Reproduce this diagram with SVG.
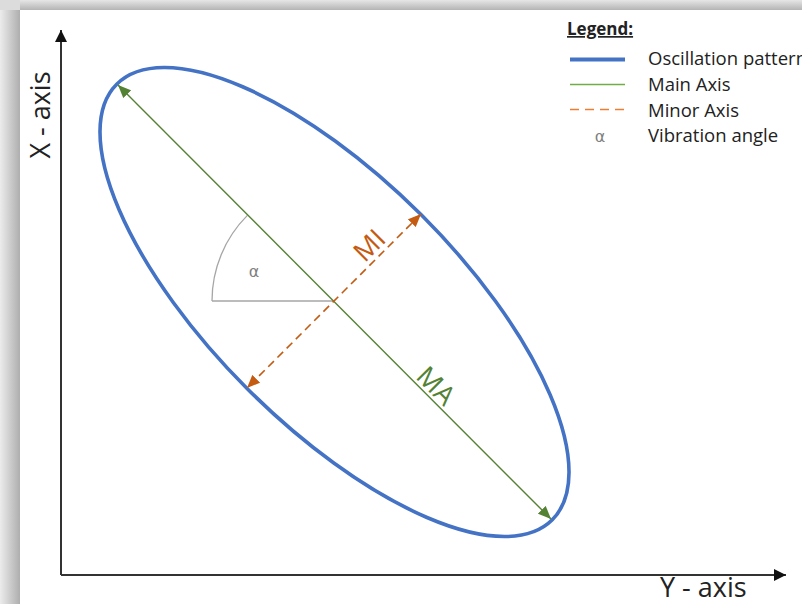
<svg xmlns="http://www.w3.org/2000/svg" width="802" height="604" viewBox="0 0 802 604">
<defs>
<linearGradient id="shL" x1="0" y1="0" x2="1" y2="0">
<stop offset="0" stop-color="#ececec"/><stop offset="1" stop-color="#aeaeae"/>
</linearGradient>
<linearGradient id="shT" x1="0" y1="0" x2="0" y2="1">
<stop offset="0" stop-color="#e6e6e6"/><stop offset="1" stop-color="#b4b4b4"/>
</linearGradient>
<marker id="arK" markerUnits="userSpaceOnUse" markerWidth="14" markerHeight="14" refX="12" refY="6" orient="auto-start-reverse" viewBox="0 0 14 12">
<path d="M0,0 L12,6 L0,12 Z" fill="#111"/>
</marker>
<marker id="arG" markerUnits="userSpaceOnUse" markerWidth="14" markerHeight="12" refX="13" refY="5.5" orient="auto-start-reverse" viewBox="0 0 14 11">
<path d="M0,0 L13,5.5 L0,11 Z" fill="#548235"/>
</marker>
<marker id="arO" markerUnits="userSpaceOnUse" markerWidth="14" markerHeight="12" refX="13" refY="5.5" orient="auto-start-reverse" viewBox="0 0 14 11">
<path d="M0,0 L13,5.5 L0,11 Z" fill="#C55A11"/>
</marker>
</defs>
<style>
.t{font-family:"Open Sans","Liberation Sans",Arial,sans-serif;fill:#222}
.leg{font-size:18.5px}
.axis{stroke:#333;stroke-width:2;fill:none}
.main{stroke:#548235;stroke-width:1.4;fill:none}
.minor{stroke:#C55A11;stroke-width:1.6;fill:none;stroke-dasharray:8 5}
.osc{stroke:#4472C4;stroke-width:3.6;fill:none}
.ang{stroke:#a6a6a6;stroke-width:1.3;fill:none}
.alpha{font-family:"DejaVu Sans","Liberation Sans",sans-serif;fill:#808080;font-size:16px}
</style>
<rect x="0" y="0" width="802" height="604" fill="#ffffff"/>
<rect x="0" y="0" width="20" height="604" fill="url(#shL)"/>
<rect x="20" y="0" width="782" height="10" fill="url(#shT)"/>
<rect x="0" y="0" width="20" height="10" fill="#dcdcdc"/>

<g id="axes">
<line class="axis" x1="61" y1="575" x2="61" y2="30" marker-end="url(#arK)"/>
<line class="axis" x1="61" y1="575" x2="786" y2="575" marker-end="url(#arK)"/>
<text class="t" x="50" y="115" font-size="27" text-anchor="middle" transform="rotate(-90 50 115)">X - axis</text>
<text class="t" x="660" y="597" font-size="27">Y - axis</text>
</g>

<g id="oscillation">
<ellipse class="osc" cx="334.5" cy="302" rx="308" ry="123" transform="rotate(45 334.5 302)"/>
</g>

<g id="angle">
<line class="ang" x1="212" y1="301" x2="333" y2="301"/>
<path class="ang" d="M212,301 A121,121 0 0 1 247.4,215.4"/>
<text class="alpha" x="254" y="277" text-anchor="middle">α</text>
</g>

<g id="connectors">
<line class="main" x1="118" y1="85" x2="551" y2="519" marker-start="url(#arG)" marker-end="url(#arG)"/>
<line class="minor" x1="421" y1="214" x2="247" y2="388" marker-start="url(#arO)" marker-end="url(#arO)"/>
</g>

<g id="labels">
<text class="t" x="376" y="252" font-size="27" text-anchor="middle" style="fill:#C55A11" transform="rotate(-45 376 252)">MI</text>
<text class="t" x="429.5" y="392.5" font-size="27" text-anchor="middle" style="fill:#548235" transform="rotate(45 429.5 392.5)">MA</text>
</g>

<g id="legend">
<text class="t" x="567" y="35" font-size="17" font-weight="bold" text-decoration="underline">Legend:</text>
<line x1="570" y1="59.5" x2="625" y2="59.5" stroke="#4472C4" stroke-width="4"/>
<line x1="570" y1="84.5" x2="625" y2="84.5" stroke="#70AD47" stroke-width="1.6"/>
<line x1="570" y1="109.5" x2="625" y2="109.5" stroke="#ED7D31" stroke-width="1.6" stroke-dasharray="9 6"/>
<text class="alpha" x="600" y="142" text-anchor="middle">α</text>
<text class="t leg" x="648" y="65">Oscillation pattern</text>
<text class="t leg" x="648" y="91">Main Axis</text>
<text class="t leg" x="648" y="116.5">Minor Axis</text>
<text class="t leg" x="648" y="142">Vibration angle</text>
</g>
</svg>
